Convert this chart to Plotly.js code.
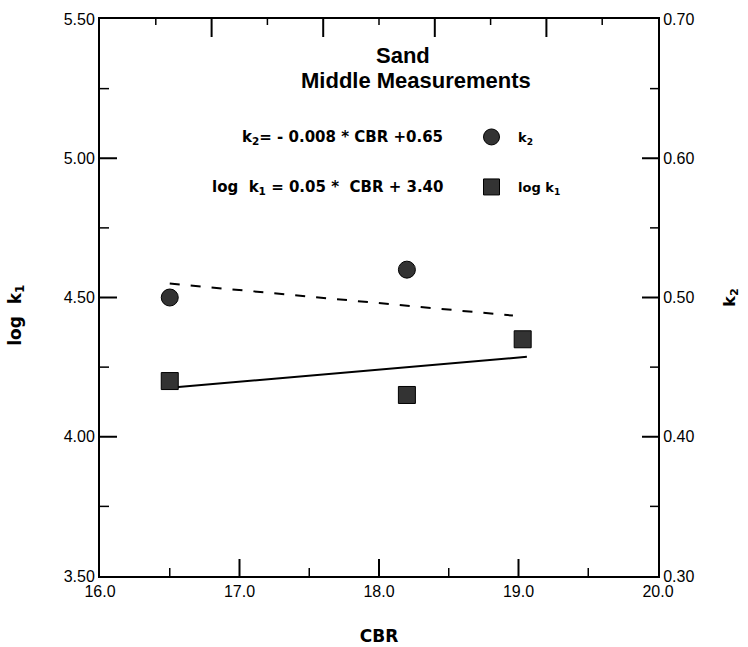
<!DOCTYPE html>
<html>
<head>
<meta charset="utf-8">
<script src="https://cdn.plot.ly/plotly-3.0.1.min.js"></script>
<style>html,body{margin:0;padding:0;background:#fff;}#chart{width:748px;height:647px;}</style>
</head>
<body>
<div id="chart"></div>
<script>
// Data
var cbrK2 = [16.5, 18.2];
var k2Values = [0.50, 0.52];
var cbrK1 = [16.5, 18.2, 19.03];
var logK1Values = [4.20, 4.15, 4.35];
var fitK1X = [16.5, 19.06];
var fitK1Y = [4.176, 4.287];
var fitK2X = [16.5, 18.96];
var fitK2Y = [0.510, 0.487];

// Tick values (axis units)
var xMajorTicks = [17, 18, 19];
var xMinorTicks = [16.5, 17.5, 18.5, 19.5];
var topMajorTicks = [16.8, 17.6, 18.4, 19.2];
var topMinorTicks = [16.4, 17.2, 18.0, 18.8, 19.6];
var leftMajorTicks = [4.0, 4.5, 5.0];
var leftMinorTicks = [3.75, 4.25, 4.75, 5.25];
var rightMajorTicks = [0.4, 0.5, 0.6];
var rightMinorTicks = [0.35, 0.45, 0.55, 0.65];

var FONT = 'Liberation Sans, Arial, sans-serif';
var WIDE = 'DejaVu Sans, Verdana, sans-serif';
var markerColor = '#333333';

var traces = [
  {x: fitK1X, y: fitK1Y, mode: 'lines', line: {color: '#000', width: 2}, showlegend: false, hoverinfo: 'skip'},
  {x: fitK2X, y: fitK2Y, yaxis: 'y2', mode: 'lines', line: {color: '#000', width: 2, dash: '10px,11px'}, showlegend: false, hoverinfo: 'skip'},
  {x: cbrK2, y: k2Values, yaxis: 'y2', mode: 'markers', name: '<b>k<sub>2</sub></b>',
   marker: {symbol: 'circle', size: 17, color: markerColor, line: {color: '#000', width: 1}}, legend: 'legend'},
  {x: cbrK1, y: logK1Values, mode: 'markers', name: '<b>log k<sub>1</sub></b>',
   marker: {symbol: 'square', size: 17, color: markerColor, line: {color: '#000', width: 1}}, legend: 'legend2'}
];

var axCommon = {
  showgrid: false, zeroline: false, showline: true, linecolor: '#000', linewidth: 2,
  ticks: '', tickfont: {family: FONT, size: 16, color: '#000'}
};

function pxX(p) { return (p - 100) / 558; }
function pxY(p) { return (576 - p) / 557; }

var shapes = [];
function xTicks(vals, len, anchor, dir, w) {
  vals.forEach(function (v) {
    shapes.push({type: 'line', layer: 'above', xref: 'x', yref: 'paper', x0: v, x1: v,
      ysizemode: 'pixel', yanchor: anchor, y0: 0, y1: dir * len, line: {color: '#000', width: w}});
  });
}
function yTicks(vals, axis, len, anchor, dir, w) {
  vals.forEach(function (v) {
    shapes.push({type: 'line', layer: 'above', xref: 'paper', yref: axis, y0: v, y1: v,
      xsizemode: 'pixel', xanchor: anchor, x0: 0, x1: dir * len, line: {color: '#000', width: w}});
  });
}
xTicks(xMajorTicks, 17, 0, 1, 2);
xTicks(xMinorTicks, 8, 0, 1, 1.5);
xTicks(topMajorTicks, 18, 1, -1, 2);
xTicks(topMinorTicks, 6, 1, -1, 1.5);
yTicks(leftMajorTicks, 'y', 17, 0, 1, 2);
yTicks(leftMinorTicks, 'y', 9, 0, 1, 1.5);
yTicks(rightMajorTicks, 'y2', 16, 1, -1, 2);
yTicks(rightMinorTicks, 'y2', 8, 1, -1, 1.5);

var layout = {
  width: 748, height: 647,
  margin: {l: 100, r: 90, t: 19, b: 71},
  paper_bgcolor: '#fff', plot_bgcolor: '#fff',
  font: {family: FONT, color: '#000'},
  xaxis: Object.assign({}, axCommon, {
    range: [16, 20], dtick: 1, tick0: 16, tickformat: '.1f', mirror: true,
    title: {text: '<b>CBR</b>', font: {family: WIDE, size: 17, color: '#000'}, standoff: 31}
  }),
  yaxis: Object.assign({}, axCommon, {
    range: [3.5, 5.5], dtick: 0.5, tick0: 3.5, tickformat: '.2f',
    title: {text: '<b>log&nbsp;&nbsp;k<sub>1</sub>&nbsp;&nbsp;&nbsp;&nbsp;&nbsp;&nbsp;</b>', font: {family: WIDE, size: 17, color: '#000'}, standoff: 38}
  }),
  yaxis2: Object.assign({}, axCommon, {
    overlaying: 'y', side: 'right', anchor: 'x', range: [0.3, 0.7], dtick: 0.1, tick0: 0.3, tickformat: '.2f',
    title: {text: '<b>k<sub>2</sub></b>', font: {family: WIDE, size: 16, color: '#000'}, standoff: 30}
  }),
  legend: {x: pxX(465), y: pxY(137), xanchor: 'left', yanchor: 'middle', bgcolor: 'rgba(0,0,0,0)', itemwidth: 43,
           font: {family: WIDE, size: 13, color: '#000'}},
  legend2: {x: pxX(465), y: pxY(187), xanchor: 'left', yanchor: 'middle', bgcolor: 'rgba(0,0,0,0)', itemwidth: 43,
            font: {family: WIDE, size: 13, color: '#000'}},
  shapes: shapes,
  annotations: [
    {xref: 'paper', yref: 'paper', x: pxX(403), y: pxY(55), text: '<b>Sand</b>', showarrow: false,
     xanchor: 'center', yanchor: 'middle', font: {family: FONT, size: 22, color: '#000'}},
    {xref: 'paper', yref: 'paper', x: pxX(416), y: pxY(80), text: '<b>Middle Measurements</b>', showarrow: false,
     xanchor: 'center', yanchor: 'middle', font: {family: FONT, size: 22, color: '#000'}},
    {xref: 'paper', yref: 'paper', x: pxX(240), y: pxY(137), text: '<b>k<sub>2</sub>= - 0.008 * CBR +0.65</b>', showarrow: false,
     xanchor: 'left', yanchor: 'middle', font: {family: WIDE, size: 15, color: '#000'}},
    {xref: 'paper', yref: 'paper', x: pxX(210), y: pxY(187), text: '<b>log&nbsp;&nbsp;k<sub>1</sub> = 0.05 *&nbsp;&nbsp;CBR + 3.40</b>', showarrow: false,
     xanchor: 'left', yanchor: 'middle', font: {family: WIDE, size: 15, color: '#000'}}
  ]
};

Plotly.newPlot('chart', traces, layout, {displayModeBar: false, staticPlot: true});
</script>
</body>
</html>
